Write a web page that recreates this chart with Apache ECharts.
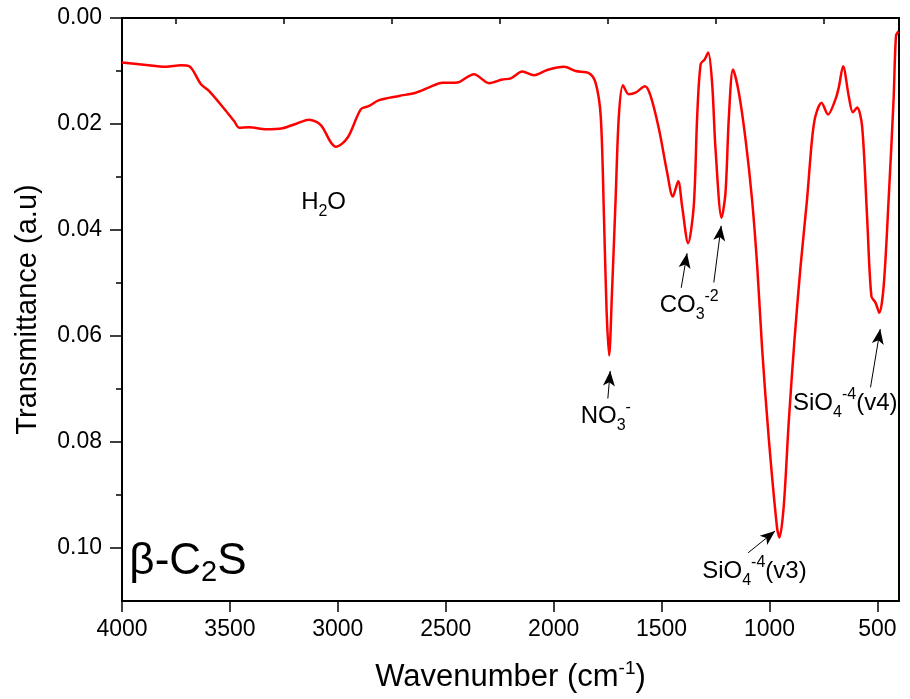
<!DOCTYPE html>
<html lang="en" style="height: 100%">
<head>
  <meta charset="utf-8">
  <style>
    body { margin: 0; background: #fff; }
  </style>
</head>
<body style="height: 100%; margin: 0">
  <div id="container" style="width: 910px; height: 699px"></div>

  <script type="text/javascript" src="https://cdn.jsdelivr.net/npm/echarts@6.0.0/dist/echarts.min.js"></script>
  <script type="text/javascript">
    // FTIR spectrum of beta-C2S
    var wavenumber = [
      4000, 3900, 3796, 3727, 3688, 3634, 3596, 3519, 3480, 3457, 3411, 3333, 3256, 3190, 3133, 3079,
      3032, 3009, 2955, 2893, 2855, 2809, 2716, 2639, 2577, 2516, 2460, 2438, 2369, 2299, 2238, 2199,
      2145, 2091, 2030, 1952, 1898, 1837, 1806, 1782, 1767, 1755, 1743, 1730, 1713, 1698, 1679, 1652,
      1621, 1577, 1551, 1512, 1474, 1448, 1423, 1405, 1377, 1351, 1335, 1319, 1300, 1284, 1266, 1250,
      1222, 1204, 1188, 1169, 1142, 1111, 1081, 1057, 1034, 1003, 965, 954, 934, 911, 884, 856,
      826, 803, 787, 759, 729, 694, 679, 659, 633, 614, 594, 571, 548, 528, 509, 491,
      471, 448, 425, 414, 403
    ];
    var transmittance = [
      0.0084, 0.0088, 0.0092, 0.0089, 0.0091, 0.0125, 0.0138, 0.0175, 0.0195, 0.0207, 0.0206, 0.0210, 0.0208, 0.0199, 0.0192, 0.0202,
      0.0235, 0.0243, 0.0226, 0.0172, 0.0166, 0.0155, 0.0147, 0.0141, 0.0131, 0.0122, 0.0122, 0.0121, 0.0106, 0.0123, 0.0116, 0.0114,
      0.0101, 0.0108, 0.0098, 0.0092, 0.0100, 0.0104, 0.0122, 0.0185, 0.0374, 0.0550, 0.0637, 0.0520, 0.0342, 0.0185, 0.0127, 0.0144,
      0.0141, 0.0129, 0.0147, 0.0210, 0.0292, 0.0337, 0.0308, 0.0355, 0.0425, 0.0355, 0.0185, 0.0087, 0.0078, 0.0065, 0.0122, 0.0248,
      0.0377, 0.0330, 0.0185, 0.0097, 0.0141, 0.0229, 0.0342, 0.0468, 0.0625, 0.0795, 0.0962, 0.0980, 0.0921, 0.0763, 0.0606, 0.0468,
      0.0342, 0.0229, 0.0185, 0.0160, 0.0182, 0.0153, 0.0131, 0.0091, 0.0147, 0.0178, 0.0169, 0.0204, 0.0374, 0.0525, 0.0537, 0.0556,
      0.0506, 0.0342, 0.0153, 0.0034, 0.0025
    ];

    var xMajorTicks = [500, 1000, 1500, 2000, 2500, 3000, 3500, 4000];
    var xMinorTicks = [750, 1250, 1750, 2250, 2750, 3250, 3750];
    var yMajorTicks = [0, 0.02, 0.04, 0.06, 0.08, 0.10];
    var yMinorTicks = [0.01, 0.03, 0.05, 0.07, 0.09];

    // annotation text: [wavenumber, value, rich text]
    var peakLabels = [
      [3170, 0.0348, '{n|H}{sub|2}{n|O}'],
      [1875, 0.0752, '{n|NO}{sub|3}{sup|-}'],
      [1509, 0.0542, '{n|CO}{sub|3}{sup|-2}'],
      [1312, 0.1045, '{n|SiO}{sub|4}{sup|-4}{n|(v3)}'],
      [891, 0.0727, '{n|SiO}{sub|4}{sup|-4}{n|(v4)}']
    ];
    // arrows: [from wn, from value, to wn, to value]
    var peakArrows = [
      [1749, 0.0718, 1738, 0.0666],
      [1409, 0.0509, 1382, 0.0444],
      [1258, 0.0499, 1224, 0.0392],
      [1099, 0.1009, 974, 0.0968],
      [532, 0.0697, 487, 0.0587]
    ];

    var font = '"Liberation Sans", Arial, sans-serif';
    var richText = {
      n: { fontSize: 24, fontFamily: font, color: '#000', lineHeight: 34 },
      sub: { fontSize: 16, fontFamily: font, color: '#000', verticalAlign: 'bottom', lineHeight: 16 },
      sup: { fontSize: 16, fontFamily: font, color: '#000', verticalAlign: 'top', lineHeight: 18 },
      big: { fontSize: 44, fontFamily: font, color: '#000', lineHeight: 52 },
      bigsub: { fontSize: 29, fontFamily: font, color: '#000', verticalAlign: 'bottom', lineHeight: 29 }
    };

    var dom = document.getElementById('container');
    var myChart = echarts.init(dom, null, { renderer: 'canvas' });

    var lineData = wavenumber.map(function (w, i) { return [w, transmittance[i]]; });

    var markPoints = peakLabels.map(function (p) {
      return {
        coord: [p[0], p[1]],
        label: { formatter: p[2] }
      };
    });
    markPoints.push({
      coord: [3966, 0.1026],
      label: { formatter: '{big|β-C}{bigsub|2}{big|S}' }
    });

    var markLines = peakArrows.map(function (a) {
      return [
        { coord: [a[0], a[1]], symbol: 'none' },
        { coord: [a[2], a[3]], symbol: 'arrow', symbolSize: [9, 15] }
      ];
    });

    var option = {
      animation: false,
      backgroundColor: '#fff',
      grid: {
        left: 122, right: 11, top: 18, bottom: 98,
        show: true, borderColor: '#000', borderWidth: 2,
        outerBoundsMode: 'none'
      },
      xAxis: [
        {
          type: 'value', min: 400, max: 4000, inverse: true, position: 'bottom',
          name: '{t|Wavenumber (cm}{ts|-1}{t|)}',
          nameLocation: 'middle', nameGap: 58,
          nameTextStyle: {
            rich: {
              t: { fontSize: 31, fontFamily: font, color: '#000', lineHeight: 36 },
              ts: { fontSize: 19, fontFamily: font, color: '#000', verticalAlign: 'top', lineHeight: 19 }
            }
          },
          axisLine: { show: true, onZero: false, lineStyle: { color: '#000', width: 2 } },
          axisTick: { show: true, length: 11, customValues: xMajorTicks, lineStyle: { color: '#000', width: 1.5 } },
          axisLabel: {
            customValues: xMajorTicks, margin: 17, fontSize: 23, fontFamily: font, color: '#000',
            formatter: function (v) { return String(v); }
          },
          splitLine: { show: false }
        },
        {
          type: 'value', min: 400, max: 4000, inverse: true, position: 'bottom',
          axisLine: { show: false },
          axisTick: { show: true, length: 6, customValues: xMinorTicks, lineStyle: { color: '#000', width: 1.5 } },
          axisLabel: { show: false },
          splitLine: { show: false }
        }
      ],
      yAxis: [
        {
          type: 'value', min: 0, max: 0.11, inverse: true, position: 'left',
          name: 'Transmittance (a.u)',
          nameLocation: 'middle', nameGap: 80,
          nameTextStyle: { fontSize: 29, fontFamily: font, color: '#000' },
          axisLine: { show: true, onZero: false, lineStyle: { color: '#000', width: 2 } },
          axisTick: { show: true, length: 12, customValues: yMajorTicks, lineStyle: { color: '#000', width: 1.5 } },
          axisLabel: {
            customValues: yMajorTicks, margin: 20, fontSize: 23, fontFamily: font, color: '#000',
            formatter: function (v) { return v.toFixed(2); }
          },
          splitLine: { show: false }
        },
        {
          type: 'value', min: 0, max: 0.11, inverse: true, position: 'left',
          axisLine: { show: false },
          axisTick: { show: true, length: 6, customValues: yMinorTicks, lineStyle: { color: '#000', width: 1.5 } },
          axisLabel: { show: false },
          splitLine: { show: false }
        }
      ],
      series: [
        {
          type: 'line',
          data: lineData,
          xAxisIndex: 0,
          yAxisIndex: 0,
          showSymbol: false,
          smooth: 0.3,
          lineStyle: { color: '#ff0000', width: 2.5 },
          itemStyle: { color: '#ff0000' },
          markPoint: {
            symbol: 'circle',
            symbolSize: 0,
            silent: true,
            itemStyle: { color: 'transparent' },
            label: { show: true, position: 'right', distance: 0, rich: richText },
            data: markPoints
          },
          markLine: {
            silent: true,
            symbol: ['none', 'arrow'],
            symbolSize: 14,
            label: { show: false },
            lineStyle: { color: '#000', width: 1, type: 'solid' },
            emphasis: { disabled: true },
            data: markLines
          }
        }
      ]
    };

    myChart.setOption(option);
    window.addEventListener('resize', myChart.resize);
  </script>
</body>
</html>
